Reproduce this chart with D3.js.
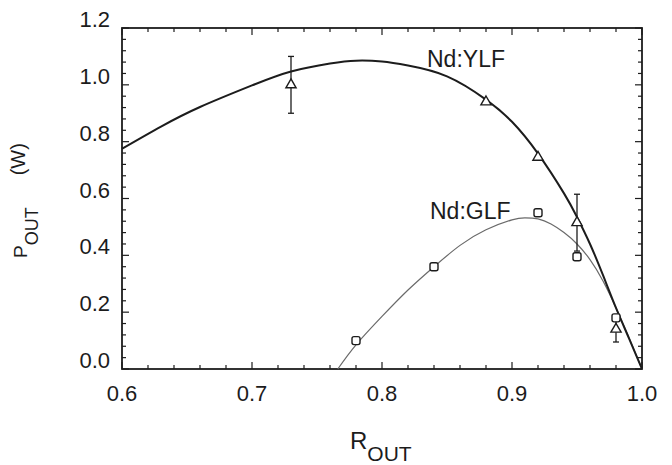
<!DOCTYPE html>
<html>
<head>
<meta charset="utf-8">
<script src="https://cdn.jsdelivr.net/npm/d3@7"></script>
<style>
  html, body { margin: 0; padding: 0; background: #fff; }
  svg { display: block; font-family: "Liberation Sans", Arial, sans-serif; }
</style>
</head>
<body>
<svg id="chart" width="672" height="465"></svg>
<script>
// measured points, Nd:YLF (triangles) and Nd:GLF (squares)
const ylfR = [0.73, 0.88, 0.92, 0.95, 0.98];
const ylfP = [1.00, 0.94, 0.745, 0.515, 0.14];
const ylfErr = [0.10, 0, 0, 0.10, 0.045];

const glfR = [0.78, 0.84, 0.92, 0.95, 0.98];
const glfP = [0.10, 0.36, 0.55, 0.395, 0.18];

// fitted curves
const ylfFitR = [0.60, 0.63, 0.66, 0.70, 0.73, 0.76, 0.78, 0.80, 0.82, 0.85, 0.88, 0.90, 0.92, 0.94, 0.95, 0.96, 0.97, 0.98, 0.99, 1.00];
const ylfFitP = [0.775, 0.853, 0.922, 0.998, 1.047, 1.075, 1.085, 1.082, 1.068, 1.03, 0.948, 0.87, 0.758, 0.618, 0.535, 0.44, 0.33, 0.215, 0.108, 0.0];

const glfFitR = [0.766, 0.78, 0.80, 0.82, 0.84, 0.86, 0.88, 0.90, 0.91, 0.92, 0.93, 0.94, 0.95, 0.96, 0.97, 0.98, 0.99, 1.00];
const glfFitP = [0.0, 0.085, 0.185, 0.278, 0.36, 0.435, 0.49, 0.525, 0.532, 0.528, 0.51, 0.48, 0.44, 0.385, 0.31, 0.215, 0.11, 0.0];

const xTicks = [0.6, 0.7, 0.8, 0.9, 1.0];
const yTicks = [0.0, 0.2, 0.4, 0.6, 0.8, 1.0, 1.2];

const margin = { left: 122, right: 30, top: 28, bottom: 96 };
const width = 672, height = 465;

const svg = d3.select('#chart');

const x = d3.scaleLinear().domain([0.6, 1.0]).range([margin.left, width - margin.right]);
const y = d3.scaleLinear().domain([0, 1.2]).range([height - margin.bottom, margin.top]);

const ink = '#1c1c1c';

// minor / major ticks, pointing inward on all four sides
const xMinor = d3.range(0, 21).map(i => 0.6 + i * 0.02);
const yMinor = d3.range(0, 31).map(i => i * 0.04);

function isMajor(v, step) {
    return Math.abs(v / step - Math.round(v / step)) < 1e-6;
}

const tickG = svg.append('g').attr('stroke', ink).attr('stroke-width', 1.2);

xMinor.forEach(v => {
    const len = isMajor(v, 0.1) ? 7 : 4;
    tickG.append('line').attr('x1', x(v)).attr('x2', x(v))
        .attr('y1', y(0)).attr('y2', y(0) - len);
    tickG.append('line').attr('x1', x(v)).attr('x2', x(v))
        .attr('y1', y(1.2)).attr('y2', y(1.2) + len);
});

yMinor.forEach(v => {
    const len = isMajor(v, 0.2) ? 7 : 4;
    tickG.append('line').attr('x1', x(0.6)).attr('x2', x(0.6) + len)
        .attr('y1', y(v)).attr('y2', y(v));
    tickG.append('line').attr('x1', x(1.0)).attr('x2', x(1.0) - len)
        .attr('y1', y(v)).attr('y2', y(v));
});

// frame
svg.append('rect')
    .attr('x', x(0.6)).attr('y', y(1.2))
    .attr('width', x(1.0) - x(0.6)).attr('height', y(0) - y(1.2))
    .attr('fill', 'none').attr('stroke', ink).attr('stroke-width', 1.8);

// tick labels
svg.append('g').selectAll('text').data(xTicks).enter().append('text')
    .attr('x', d => x(d)).attr('y', y(0) + 32)
    .attr('text-anchor', 'middle')
    .attr('font-size', 22).attr('fill', ink)
    .text(d => d.toFixed(1));

svg.append('g').selectAll('text').data(yTicks).enter().append('text')
    .attr('x', x(0.6) - 12).attr('y', d => y(d) - 1)
    .attr('text-anchor', 'end')
    .attr('font-size', 22).attr('fill', ink)
    .text(d => d.toFixed(1));

// axis titles
const xTitle = svg.append('text')
    .attr('x', 350).attr('y', 449)
    .attr('font-size', 24).attr('fill', ink);
xTitle.append('tspan').text('R');
xTitle.append('tspan').attr('dy', 12).attr('font-size', 21).text('OUT');

const yTitle = svg.append('text')
    .attr('transform', 'translate(27,258) rotate(-90)')
    .attr('font-size', 19).attr('fill', ink);
yTitle.append('tspan').text('P');
yTitle.append('tspan').attr('dy', 11).attr('font-size', 18).text('OUT');
yTitle.append('tspan').attr('dy', -13).attr('dx', 32).attr('font-size', 20).text('(W)');

// fitted curves
const line = d3.line()
    .x(d => x(d[0]))
    .y(d => y(d[1]))
    .curve(d3.curveNatural);

svg.append('path')
    .datum(glfFitR.map((r, i) => [r, glfFitP[i]]))
    .attr('d', line)
    .attr('fill', 'none').attr('stroke', '#6a6a6a').attr('stroke-width', 1.2);

svg.append('path')
    .datum(ylfFitR.map((r, i) => [r, ylfFitP[i]]))
    .attr('d', line)
    .attr('fill', 'none').attr('stroke', ink).attr('stroke-width', 2);

// error bars
const errG = svg.append('g').attr('stroke', ink).attr('stroke-width', 1.3);
ylfR.forEach((r, i) => {
    const e = ylfErr[i];
    if (!e) return;
    const cx = x(r);
    errG.append('line').attr('x1', cx).attr('x2', cx)
        .attr('y1', y(ylfP[i] + e)).attr('y2', y(ylfP[i] - e));
    [ylfP[i] + e, ylfP[i] - e].forEach(v => {
        errG.append('line').attr('x1', cx - 3).attr('x2', cx + 3)
            .attr('y1', y(v)).attr('y2', y(v));
    });
});

// markers
const triangle = d3.symbol().type(d3.symbolTriangle).size(45);
svg.append('g').selectAll('path').data(ylfR).enter().append('path')
    .attr('transform', (d, i) => `translate(${x(d)},${y(ylfP[i])})`)
    .attr('d', triangle)
    .attr('fill', '#fff').attr('stroke', ink).attr('stroke-width', 1.4);

svg.append('g').selectAll('rect').data(glfR).enter().append('rect')
    .attr('x', d => x(d) - 4).attr('y', (d, i) => y(glfP[i]) - 4)
    .attr('width', 8).attr('height', 8).attr('rx', 2)
    .attr('fill', '#fff').attr('stroke', ink).attr('stroke-width', 1.4);

// series labels
svg.append('text').attr('x', 427).attr('y', 67)
    .attr('font-size', 23).attr('fill', ink).text('Nd:YLF');
svg.append('text').attr('x', 430).attr('y', 219)
    .attr('font-size', 23).attr('fill', ink).text('Nd:GLF');
</script>
</body>
</html>
